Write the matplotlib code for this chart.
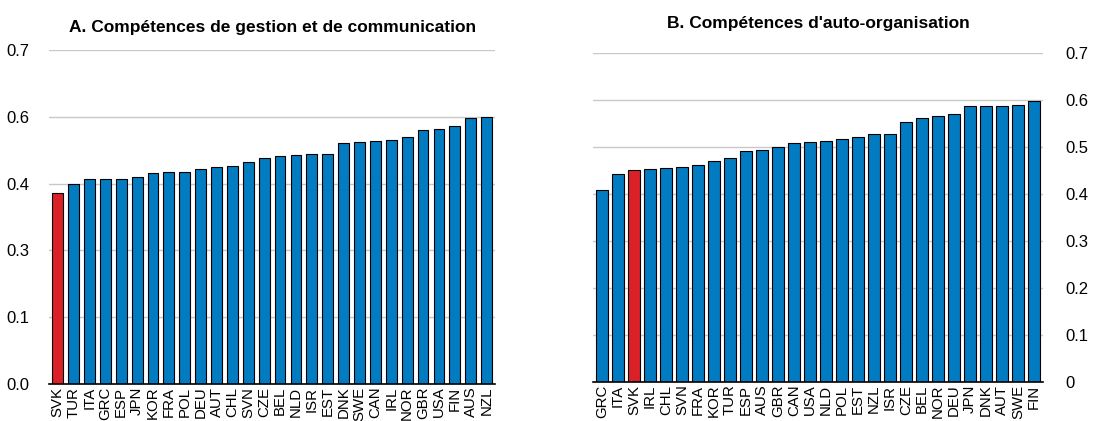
import numpy as np
import matplotlib
matplotlib.use("Agg")
import matplotlib.pyplot as plt
from matplotlib.ticker import FixedLocator, FuncFormatter

plt.rcParams['font.family'] = ['Liberation Sans', 'DejaVu Sans']

# Panel A: management and communication skills
countries_a = ["SVK", "TUR", "ITA", "GRC", "ESP", "JPN", "KOR", "FRA", "POL", "DEU",
               "AUT", "CHL", "SVN", "CZE", "BEL", "NLD", "ISR", "EST", "DNK", "SWE",
               "CAN", "IRL", "NOR", "GBR", "USA", "FIN", "AUS", "NZL"]
values_a = [0.400, 0.419, 0.430, 0.430, 0.430, 0.433, 0.443, 0.444, 0.445, 0.450,
            0.454, 0.456, 0.465, 0.473, 0.479, 0.481, 0.482, 0.483, 0.505, 0.507,
            0.510, 0.511, 0.517, 0.532, 0.534, 0.541, 0.558, 0.560]

# Panel B: self-organisation skills
countries_b = ["GRC", "ITA", "SVK", "IRL", "CHL", "SVN", "FRA", "KOR", "TUR", "ESP",
               "AUS", "GBR", "CAN", "USA", "NLD", "POL", "EST", "NZL", "ISR", "CZE",
               "BEL", "NOR", "DEU", "JPN", "DNK", "AUT", "SWE", "FIN"]
values_b = [0.408, 0.442, 0.450, 0.453, 0.454, 0.456, 0.461, 0.470, 0.476, 0.491,
            0.492, 0.499, 0.508, 0.511, 0.512, 0.516, 0.521, 0.526, 0.526, 0.552,
            0.560, 0.565, 0.570, 0.586, 0.587, 0.587, 0.589, 0.598]

ticks_a = [0.0, 0.14, 0.28, 0.42, 0.56, 0.70]
ticks_b = [0.0, 0.1, 0.2, 0.3, 0.4, 0.5, 0.6, 0.7]

blue = "#037BC1"
red = "#DA2128"
grid = "#C8C8C8"

fig = plt.figure(figsize=(11.13, 4.21), dpi=100)
ax1 = fig.add_axes([0.044, 0.088, 0.401, 0.793])
ax2 = fig.add_axes([0.533, 0.093, 0.404, 0.782])


def draw_panel(ax, countries, values, ticks, title, width, fmt, title_pad):
    colors = [red if c == "SVK" else blue for c in countries]
    x = np.arange(len(countries))
    ax.bar(x, values, width=width, color=colors, edgecolor="black", linewidth=0.8, zorder=3)
    ax.set_xlim(-0.55, len(countries) - 0.45)
    ax.set_ylim(0, 0.7)
    ax.yaxis.set_major_locator(FixedLocator(ticks))
    ax.yaxis.set_major_formatter(FuncFormatter(fmt))
    ax.grid(axis="y", color=grid, linewidth=1.0, zorder=0)
    ax.set_xticks(x)
    ax.set_xticklabels(countries, rotation=90, fontsize=10.8)
    for s in ["top", "left", "right"]:
        ax.spines[s].set_visible(False)
    ax.spines["bottom"].set_color("black")
    ax.spines["bottom"].set_linewidth(1.2)
    ax.spines["bottom"].set_zorder(4)
    ax.tick_params(axis="x", length=0, pad=2)
    ax.tick_params(axis="y", length=0, labelsize=12, pad=14)
    ax.set_title(title, fontsize=12.5, fontweight="bold", pad=title_pad)


draw_panel(ax1, countries_a, values_a, ticks_a,
           "A. Compétences de gestion et de communication", 0.68,
           lambda v, p: f"{v:.1f}", 13)
draw_panel(ax2, countries_b, values_b, ticks_b,
           "B. Compétences d'auto-organisation", 0.75,
           lambda v, p: "0" if v == 0 else f"{v:.1f}", 18)
ax2.yaxis.tick_right()
ax2.tick_params(axis="y", length=0, pad=16)

fig.savefig("out.png", dpi=100)
